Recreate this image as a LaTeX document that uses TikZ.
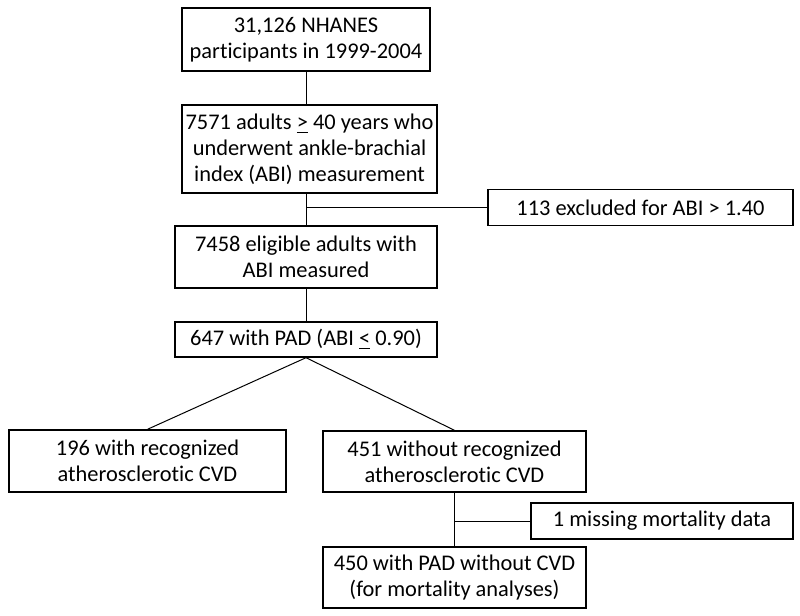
\documentclass[tikz,border=0pt]{standalone}
\usepackage{fontspec}
\setmainfont[Ligatures=NoCommon]{Carlito}
\usepackage{tikz}
\usetikzlibrary{positioning}

\tikzset{
  flowbox/.style={draw, line width=0.7pt, align=center, inner sep=0pt,
    font=\fontsize{11.2}{13}\selectfont},
  link/.style={line width=0.5pt}
}

\begin{document}
\begin{tikzpicture}[x=0.5pt,y=-0.5pt]
    \useasboundingbox (0,0) rectangle (800,616);
    % main column
    \node[flowbox, minimum width=124pt, minimum height=31.5pt] (total) at (306,39.5)
      {31,126 NHANES\\participants in 1999-2004};
    \node[flowbox, minimum width=127.5pt, minimum height=44pt] (adults) at (309.5,149)
      {7571 adults \underline{>} 40 years who\\underwent ankle-brachial\\index (ABI) measurement};
    \node[flowbox, minimum width=131pt, minimum height=31pt] (eligible) at (306,257)
      {7458 eligible adults with\\ABI measured};
    \node[flowbox, minimum width=131pt, minimum height=17.5pt] (pad) at (306,339.5)
      {647 with PAD (ABI \underline{<} 0.90)};
    \node[flowbox, minimum width=152.5pt, minimum height=18pt] (excl) at (640.5,207.5)
      {113 excluded for ABI > 1.40};
    % split
    \node[flowbox, minimum width=138.5pt, minimum height=31pt] (cvd) at (147.5,461)
      {196 with recognized\\atherosclerotic CVD};
    \node[flowbox, minimum width=131.5pt, minimum height=30.5pt] (nocvd) at (454.5,461.5)
      {451 without recognized\\atherosclerotic CVD};
    \node[flowbox, minimum width=131pt, minimum height=18pt] (missing) at (662,521)
      {1 missing mortality data};
    \node[flowbox, minimum width=131.5pt, minimum height=30.5pt] (final) at (454.5,577.5)
      {450 with PAD without CVD\\(for mortality analyses)};

    \coordinate (split1) at (total.south |- excl.west);
    \coordinate (split2) at (nocvd.south |- missing.west);

    \draw[link] (total.south) -- (total.south |- adults.north);
    \draw[link] (total.south |- adults.south) -- (eligible.north);
    \draw[link] (split1) -- (excl.west);
    \draw[link] (eligible.south) -- (pad.north);
    \draw[link] (pad.south) -- (cvd.north);
    \draw[link] (pad.south) -- (nocvd.north);
    \draw[link] (nocvd.south) -- (final.north);
    \draw[link] (split2) -- (missing.west);
\end{tikzpicture}
\end{document}
